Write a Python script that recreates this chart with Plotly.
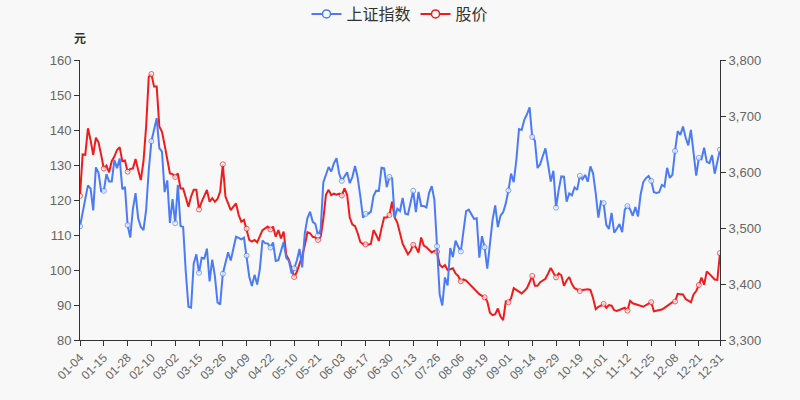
import pandas as pd
import plotly.graph_objects as go

# 2021 A-share trading calendar (weekdays minus exchange holidays)
holidays = ["2021-01-01", "2021-02-11", "2021-02-12", "2021-02-15", "2021-02-16", "2021-02-17",
            "2021-04-05", "2021-05-03", "2021-05-04", "2021-05-05", "2021-06-14",
            "2021-09-20", "2021-09-21", "2021-10-01", "2021-10-04", "2021-10-05", "2021-10-06", "2021-10-07"]
days = pd.bdate_range("2021-01-01", "2021-12-31")
days = days[~days.isin(pd.to_datetime(holidays))]
dates = [d.strftime("%m-%d") for d in days]

index_vals = [
    3502.96, 3528.68, 3550.88, 3576.21, 3570.11, 3531.50, 3608.34, 3598.65, 3565.90, 3566.38,
    3596.22, 3583.09, 3583.14, 3621.26, 3606.75, 3624.24, 3569.43, 3573.34, 3505.18, 3483.07,
    3533.68, 3562.22, 3517.31, 3501.86, 3496.33, 3532.44, 3603.49, 3655.09, 3675.36, 3696.17,
    3642.44, 3636.36, 3564.08, 3585.05, 3509.08,
    3551.40, 3508.59, 3576.90, 3503.49, 3501.99, 3421.41, 3359.29, 3357.74, 3436.83, 3453.08,
    3419.95, 3446.73, 3445.55, 3463.07, 3404.66, 3443.44, 3414.10, 3367.06, 3363.59, 3418.33,
    3435.30, 3456.68, 3441.91,
    3466.33, 3484.39, 3482.48, 3479.63, 3482.55, 3450.68, 3412.95, 3396.47, 3416.33, 3398.99,
    3426.62, 3477.55, 3472.94, 3472.31, 3465.11, 3474.17, 3441.17, 3442.61, 3457.07, 3474.90,
    3446.86,
    3441.28, 3418.87, 3427.99, 3441.85, 3462.75, 3429.54, 3490.38, 3517.62, 3529.01, 3510.96,
    3506.94, 3486.56, 3497.28, 3581.34, 3593.36, 3608.85, 3600.78, 3615.48,
    3624.71, 3597.14, 3584.22, 3591.84, 3599.54, 3580.11, 3591.40, 3610.86, 3589.75, 3556.56,
    3518.33, 3525.10, 3525.60, 3529.18, 3557.41, 3566.65, 3566.22, 3607.56, 3606.37, 3573.18,
    3591.20,
    3588.78, 3518.76, 3534.32, 3530.26, 3553.72, 3525.50, 3524.09, 3547.84, 3566.43, 3528.50,
    3564.59, 3539.30, 3539.12, 3536.79, 3562.70, 3574.73, 3550.40, 3467.44, 3381.18, 3361.59,
    3411.72, 3397.36,
    3464.29, 3447.99, 3477.22, 3466.56, 3458.23, 3494.63, 3529.93, 3532.62, 3524.74, 3516.30,
    3517.34, 3446.98, 3485.29, 3465.55, 3427.33, 3477.13, 3514.47, 3540.38, 3501.66, 3522.16,
    3528.15, 3543.94,
    3567.10, 3597.04, 3581.73, 3621.86, 3676.59, 3675.19, 3693.13, 3703.11, 3715.37, 3662.60,
    3656.22, 3607.09, 3613.97, 3628.49, 3642.22, 3613.07, 3582.83, 3602.22, 3536.29, 3568.17,
    3592.17, 3591.71, 3546.94, 3561.76, 3558.28, 3572.37, 3568.14, 3593.15, 3587.00, 3594.78,
    3582.60, 3609.86, 3597.64, 3562.31, 3518.42, 3547.34,
    3544.48, 3505.63, 3498.54, 3526.87, 3491.57, 3498.63, 3507.00, 3492.46, 3532.79, 3539.10,
    3533.30, 3521.79, 3537.37, 3520.71, 3560.37, 3582.08, 3589.09, 3592.70, 3584.18, 3564.09,
    3562.70, 3563.89,
    3576.89, 3573.84, 3607.43, 3589.31, 3595.09, 3637.57, 3673.04, 3666.35, 3681.08, 3661.53,
    3647.63, 3675.02, 3632.36, 3593.60, 3625.13, 3622.62, 3643.34, 3618.05, 3615.97, 3630.11,
    3597.00, 3619.19, 3639.78,
]

price_vals = [
    121.2, 133.0, 132.9, 140.5, 137.1, 132.9, 137.8, 136.5, 132.9, 129.0,
    129.8, 127.9, 131.1, 132.4, 134.3, 135.1, 131.1, 131.3, 128.1, 128.9,
    129.0, 131.7, 128.6, 125.7, 131.0, 141.0, 155.2, 156.0, 152.4, 152.4,
    141.0, 139.5, 135.7, 131.9, 127.6, 127.4, 126.6, 127.6, 123.3, 123.3,
    121.0, 118.1, 121.0, 122.9, 122.9, 117.3, 119.5, 121.4, 122.9, 119.5,
    120.5, 119.5, 120.3, 122.4, 130.2, 121.0, 119.0, 117.1, 118.1, 119.0,
    115.7, 113.8, 114.3, 111.8, 108.6, 108.1, 108.6, 107.9, 109.5, 111.4,
    111.9, 112.4, 111.6, 112.4, 109.5, 111.4, 109.0, 111.0, 104.3, 102.9,
    100.5, 98.0, 99.5, 101.5, 104.0, 107.0, 110.8, 110.5, 109.5, 109.3,
    108.6, 109.5, 114.5, 121.5, 122.9, 121.4, 121.8, 121.5, 121.8, 121.3,
    123.3, 121.5, 115.0, 113.0, 112.5, 110.5, 108.0, 107.4, 107.3, 107.2,
    107.5, 111.4, 110.0, 108.3, 111.9, 115.0, 115.0, 115.7, 119.5, 115.0,
    113.5, 110.0, 107.5, 106.0, 104.5, 105.5, 107.2, 106.5, 105.0, 109.3,
    107.0, 106.5, 105.8, 105.0, 105.5, 105.2, 101.5, 100.8, 101.4, 100.0,
    100.2, 100.5, 99.0, 98.3, 96.8, 97.3, 97.0, 96.2, 95.4, 94.6,
    94.0, 93.1, 92.6, 92.2, 91.0, 87.8, 87.1, 87.4, 89.0, 86.7,
    85.7, 91.0, 90.8, 91.9, 94.8, 94.3, 94.0, 93.3, 94.0, 94.8,
    96.5, 98.3, 95.5, 95.5, 96.5, 97.1, 97.5, 99.0, 100.6, 99.2,
    97.9, 99.0, 98.5, 95.5, 97.0, 98.0, 96.0, 94.8, 94.5, 94.0,
    94.3, 94.5, 94.5, 94.3, 92.0, 88.8, 89.5, 89.8, 90.3, 89.2,
    90.0, 89.8, 88.5, 88.3, 88.6, 88.8, 89.2, 88.4, 91.2, 90.5,
    90.2, 90.0, 89.8, 89.5, 90.0, 90.5, 90.8, 88.2, 88.4, 88.5,
    88.7, 89.2, 89.7, 90.2, 90.8, 91.0, 93.2, 93.1, 93.0, 91.7,
    91.2, 90.8, 93.0, 94.0, 95.7, 97.8, 95.8, 99.6, 98.9, 98.2,
    97.3, 97.2, 104.8,
]

series_names = ["上证指数", "股价"]
n = len(dates)
tick_idx = list(range(0, n, 9)) + [n - 1]
tick_labels = [dates[i] for i in tick_idx]
msize = [5 if (i % 9 == 0 or i == n - 1) else 0 for i in range(n)]

BLUE = "#4b7bf5"
RED = "#f01c1c"
FONT = "Noto Sans CJK SC, Noto Sans, sans-serif"
TICKFONT = "Liberation Sans, Arial, sans-serif"

fig = go.Figure()
for name, vals, col, ax in [(series_names[0], index_vals, BLUE, "y2"),
                            (series_names[1], price_vals, RED, "y")]:
    fig.add_trace(go.Scatter(
        x=dates, y=vals, name=name, yaxis=ax, mode="lines+markers", showlegend=False,
        line=dict(color=col, width=2),
        marker=dict(size=msize, color="white", line=dict(color=col, width=1)),
    ))
    # legend entry
    fig.add_trace(go.Scatter(
        x=[None], y=[None], name=name, yaxis=ax, mode="lines+markers",
        line=dict(color=col, width=2),
        marker=dict(size=8, color="white", line=dict(color=col, width=1.5)),
    ))

fig.update_layout(
    width=800, height=400,
    margin=dict(l=80, r=80, t=60, b=60, autoexpand=False),
    paper_bgcolor="#f8f8f8", plot_bgcolor="#f8f8f8",
    font=dict(family=FONT),
    showlegend=True,
    legend=dict(orientation="h", x=0.5, xanchor="center", xref="container",
                y=0.965, yanchor="middle", yref="container",
                font=dict(family=FONT, size=16, color="#333"),
                bgcolor="rgba(0,0,0,0)", traceorder="normal", itemwidth=30),
    xaxis=dict(type="category", range=[0, n - 1], tickmode="array",
               tickvals=tick_labels, ticktext=tick_labels, tickangle=-45,
               showgrid=False, zeroline=False, showline=True, linecolor="#333", linewidth=1,
               ticks="outside", ticklen=5, tickcolor="#333",
               tickfont=dict(family=TICKFONT, size=12, color="#666")),
    yaxis=dict(range=[80, 160], dtick=10, showgrid=False, zeroline=False,
               showline=True, linecolor="#333", linewidth=1, ticks="outside", ticklen=5,
               tickcolor="#333", tickfont=dict(family=TICKFONT, size=13, color="#666")),
    yaxis2=dict(range=[3300, 3800], dtick=100, overlaying="y", side="right",
                tickformat=",", showgrid=False, zeroline=False, showline=True,
                linecolor="#333", linewidth=1, ticks="outside", ticklen=5, tickcolor="#333",
                tickfont=dict(family=TICKFONT, size=13, color="#666")),
    annotations=[dict(text="<b>元</b>", x=0, y=1.082, xref="paper", yref="paper",
                      xanchor="center", yanchor="middle", showarrow=False,
                      font=dict(family=FONT, size=12, color="#333"))],
)

fig.write_html("out.html")
